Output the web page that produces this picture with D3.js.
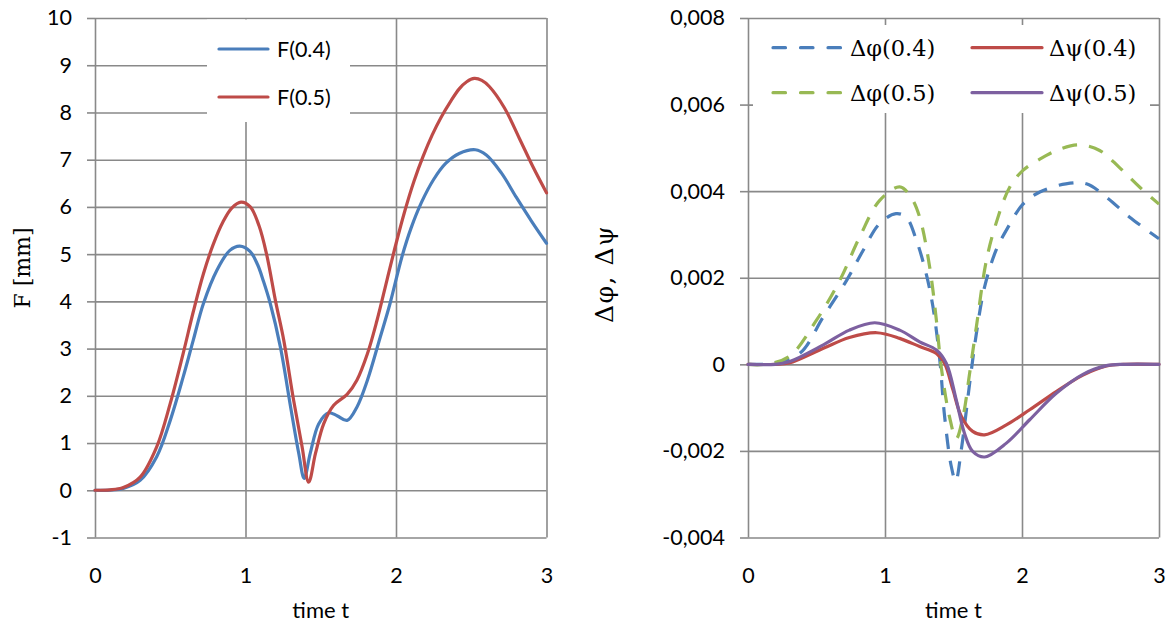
<!DOCTYPE html>
<html>
<head>
<meta charset="utf-8">
<script src="https://cdn.jsdelivr.net/npm/d3@7"></script>
<style>
  html, body { margin: 0; padding: 0; background: #ffffff; }
  svg { display: block; }
</style>
</head>
<body>
<svg id="chart" width="1168" height="628"></svg>
<script>
// ---- data -------------------------------------------------------------
const timeTicks = [0, 1, 2, 3];
const fTicks = [-1, 0, 1, 2, 3, 4, 5, 6, 7, 8, 9, 10];
const dTicks = [-0.004, -0.002, 0, 0.002, 0.004, 0.006, 0.008];

// deflection F [mm] over time t, as [t, F]
const F04 = [
  [0, 0], [0.1, 0.005], [0.188, 0.04], [0.3, 0.21], [0.41, 0.71], [0.5, 1.48],
  [0.586, 2.4], [0.653, 3.18], [0.72, 3.95], [0.81, 4.66], [0.896, 5.08],
  [0.962, 5.17], [1.03, 5.06], [1.08, 4.78], [1.12, 4.42], [1.165, 3.95],
  [1.232, 3.03], [1.3, 1.76], [1.354, 0.78], [1.39, 0.25], [1.43, 0.78],
  [1.487, 1.41], [1.553, 1.64], [1.608, 1.58], [1.675, 1.48], [1.74, 1.76],
  [1.81, 2.33], [1.896, 3.25], [1.96, 3.95], [2.04, 4.95], [2.1, 5.55],
  [2.17, 6.1], [2.25, 6.58], [2.33, 6.92], [2.42, 7.13], [2.527, 7.21],
  [2.6, 7.1], [2.7, 6.72], [2.8, 6.2], [2.9, 5.7], [3.0, 5.23]
];
const F05 = [
  [0, 0], [0.1, 0.01], [0.188, 0.06], [0.3, 0.28], [0.41, 0.92], [0.5, 1.84],
  [0.586, 2.9], [0.653, 3.78], [0.72, 4.58], [0.785, 5.2], [0.85, 5.68],
  [0.91, 5.98], [0.97, 6.1], [1.032, 6.0], [1.09, 5.6], [1.14, 5.0], [1.2, 4.0],
  [1.254, 3.18], [1.32, 1.9], [1.376, 0.92], [1.42, 0.17], [1.465, 0.78],
  [1.52, 1.41], [1.586, 1.8], [1.675, 2.03], [1.74, 2.33], [1.81, 2.89],
  [1.874, 3.6], [1.94, 4.45], [2.0, 5.22], [2.06, 5.93], [2.12, 6.55],
  [2.18, 7.07], [2.24, 7.52], [2.3, 7.9], [2.36, 8.22], [2.42, 8.5],
  [2.47, 8.65], [2.52, 8.72], [2.57, 8.68], [2.62, 8.55], [2.72, 8.1],
  [2.82, 7.45], [2.91, 6.85], [3.0, 6.3]
];

// angle deviations over time t, as [t, value]
const dPhi04 = [
  [0, 0], [0.1, 0], [0.18, 0.00002], [0.377, 0.00025], [0.55, 0.0011],
  [0.72, 0.00194], [0.84, 0.00263], [0.96, 0.00325], [1.08, 0.00348],
  [1.155, 0.0034], [1.23, 0.00286], [1.3, 0.0021], [1.35, 0.00133],
  [1.4, 0.0001], [1.435, -0.0012], [1.484, -0.00236], [1.516, -0.0027],
  [1.557, -0.00197], [1.618, -0.00044], [1.667, 0.00071], [1.727, 0.00179],
  [1.81, 0.00263], [1.886, 0.0031], [2.007, 0.0037], [2.13, 0.00398],
  [2.32, 0.00417], [2.47, 0.00417], [2.616, 0.00386], [2.786, 0.0034],
  [3.0, 0.0029]
];
const dPhi05 = [
  [0, 0], [0.12, 0], [0.3, 0.00018], [0.5, 0.00102], [0.67, 0.00194],
  [0.815, 0.00294], [0.96, 0.00378], [1.107, 0.0041], [1.19, 0.00386],
  [1.253, 0.0034], [1.326, 0.00225], [1.375, 0.00102], [1.41, -0.00005],
  [1.47, -0.0012], [1.52, -0.00172], [1.57, -0.0012], [1.618, -0.0002],
  [1.667, 0.00087], [1.74, 0.0024], [1.81, 0.00325], [1.91, 0.00409],
  [2.007, 0.00448], [2.13, 0.00474], [2.275, 0.00497], [2.42, 0.00507],
  [2.567, 0.00494], [2.71, 0.00455], [2.86, 0.00409], [3.0, 0.0037]
];
const dPsi04 = [
  [0, 0], [0.2, 0], [0.3, 0.00003], [0.55, 0.00037], [0.74, 0.00062],
  [0.94, 0.00073], [1.107, 0.0006], [1.253, 0.00041], [1.375, 0.00025],
  [1.435, 0.00002], [1.496, -0.00059], [1.557, -0.0012], [1.64, -0.00155],
  [1.727, -0.00163], [1.886, -0.0014], [2.056, -0.00105], [2.25, -0.00063],
  [2.445, -0.00025], [2.616, -0.00004], [2.74, 0], [3.0, 0]
];
const dPsi05 = [
  [0, 0], [0.2, 0], [0.3, 0.00006], [0.55, 0.00045], [0.74, 0.00079],
  [0.925, 0.00096], [1.107, 0.00079], [1.253, 0.00052], [1.375, 0.00033],
  [1.448, 0.00002], [1.52, -0.00082], [1.58, -0.00159], [1.64, -0.00201],
  [1.727, -0.00214], [1.886, -0.00182], [2.056, -0.00128], [2.25, -0.00067],
  [2.445, -0.00023], [2.616, -0.00003], [2.75, 0], [3.0, 0]
];

// ---- styling ----------------------------------------------------------
const BLUE = "#4a7ebb", RED = "#be4b48", GREEN = "#98b954", PURPLE = "#7d60a0";
const GRID = "#898989";
const SANS = "Lato, 'Open Sans', sans-serif";
const SERIF = "'DejaVu Serif', 'Liberation Serif', serif";
const TOP = 18, BOTTOM = 537.5;

const svg = d3.select("#chart");

function fmtComma(d) {
  if (d === 0) return "0";
  return (d < 0 ? "-" : "") + Math.abs(d).toFixed(3).replace(".", ",");
}

function panel(cfg) {
  const g = svg.append("g");
  const x = d3.scaleLinear().domain([0, 3]).range([cfg.x0, cfg.x1]);
  const y = d3.scaleLinear().domain(cfg.yDomain).range([BOTTOM, TOP]);
  const w = cfg.x1 - cfg.x0, h = BOTTOM - TOP;

  // horizontal grid with short outward tick marks and labels
  const yAxis = g.append("g")
    .attr("transform", `translate(${cfg.x0},0)`)
    .call(d3.axisLeft(y).tickValues(cfg.yTicks).tickFormat(cfg.yFormat)
      .tickSizeInner(8).tickSizeOuter(0).tickPadding(15));
  yAxis.select(".domain").remove();
  yAxis.selectAll(".tick line").attr("stroke", GRID).attr("stroke-width", 1.6);
  yAxis.selectAll(".tick").append("line")
    .attr("x1", 0).attr("x2", w)
    .attr("stroke", GRID).attr("stroke-width", 1.6);
  yAxis.selectAll("text")
    .attr("font-family", SANS).attr("font-size", 21.5).attr("fill", "#000");

  // vertical grid and time labels
  const xAxis = g.append("g")
    .attr("transform", `translate(0,${BOTTOM})`)
    .call(d3.axisBottom(x).tickValues(timeTicks).tickFormat(d3.format("d"))
      .tickSizeInner(-h).tickSizeOuter(0).tickPadding(30));
  xAxis.select(".domain").remove();
  xAxis.selectAll(".tick line").attr("stroke", GRID).attr("stroke-width", 1.6);
  xAxis.selectAll("text")
    .attr("font-family", SANS).attr("font-size", 21.5).attr("fill", "#000");

  // axis titles
  g.append("text")
    .attr("x", (cfg.x0 + cfg.x1) / 2).attr("y", 618)
    .attr("text-anchor", "middle")
    .attr("font-family", SANS).attr("font-size", 22)
    .text("time t");
  g.append("text")
    .attr("transform", `translate(${cfg.titleX},${cfg.titleY}) rotate(-90)`)
    .attr("text-anchor", "middle").attr("dy", "0.35em")
    .attr("font-family", SERIF).attr("font-size", cfg.titleSize)
    .attr("letter-spacing", cfg.titleSpacing || 0)
    .text(cfg.yTitle);

  // series
  const line = d3.line()
    .x(d => x(d[0])).y(d => y(d[1]))
    .curve(d3.curveCatmullRom.alpha(0.5));
  cfg.series.forEach(s => {
    g.append("path")
      .datum(s.values)
      .attr("d", line)
      .attr("fill", "none")
      .attr("stroke", s.color)
      .attr("stroke-width", 3.2)
      .attr("stroke-linejoin", "round")
      .attr("stroke-linecap", s.dashed ? "butt" : "round")
      .attr("stroke-dasharray", s.dashed ? "15 12" : null);
  });

  // legend
  const lg = g.append("g");
  lg.append("rect")
    .attr("x", cfg.legend.box[0]).attr("y", cfg.legend.box[1])
    .attr("width", cfg.legend.box[2]).attr("height", cfg.legend.box[3])
    .attr("fill", "#fff");
  cfg.series.forEach((s, i) => {
    const p = cfg.legend.pos[i];
    lg.append("line")
      .attr("x1", p[0]).attr("x2", p[0] + cfg.legend.len)
      .attr("y1", p[1]).attr("y2", p[1])
      .attr("stroke", s.color).attr("stroke-width", 3.2)
      .attr("stroke-linecap", "round")
      .attr("stroke-dasharray", s.dashed ? "12.5 15" : null);
    lg.append("text")
      .attr("x", p[0] + cfg.legend.len + cfg.legend.gap).attr("y", p[1])
      .attr("dy", "0.35em")
      .attr("font-family", cfg.legend.font).attr("font-size", cfg.legend.size)
      .text(s.name);
  });
}

panel({
  x0: 95, x1: 546.5,
  yDomain: [-1, 10], yTicks: fTicks, yFormat: d => String(d),
  yTitle: "F [mm]", titleX: 22, titleY: 268, titleSize: 22,
  series: [
    { name: "F(0.4)", values: F04, color: BLUE },
    { name: "F(0.5)", values: F05, color: RED }
  ],
  legend: {
    box: [207, 19.5, 143, 102.5],
    pos: [[219, 49], [219, 97]], len: 49, gap: 9,
    font: SANS, size: 21.5
  }
});

panel({
  x0: 748, x1: 1159,
  yDomain: [-0.004, 0.008], yTicks: dTicks, yFormat: fmtComma,
  yTitle: "Δφ, Δψ", titleX: 604, titleY: 274, titleSize: 25, titleSpacing: 1.5,
  series: [
    { name: "Δφ(0.4)", values: dPhi04, color: BLUE, dashed: true },
    { name: "Δψ(0.4)", values: dPsi04, color: RED },
    { name: "Δφ(0.5)", values: dPhi05, color: GREEN, dashed: true },
    { name: "Δψ(0.5)", values: dPsi05, color: PURPLE }
  ],
  legend: {
    box: [753, 25, 397, 88],
    pos: [[773, 47.7], [972, 47.7], [773, 92.7], [972, 92.7]], len: 70, gap: 7,
    font: SERIF, size: 22.5
  }
});
</script>
</body>
</html>
